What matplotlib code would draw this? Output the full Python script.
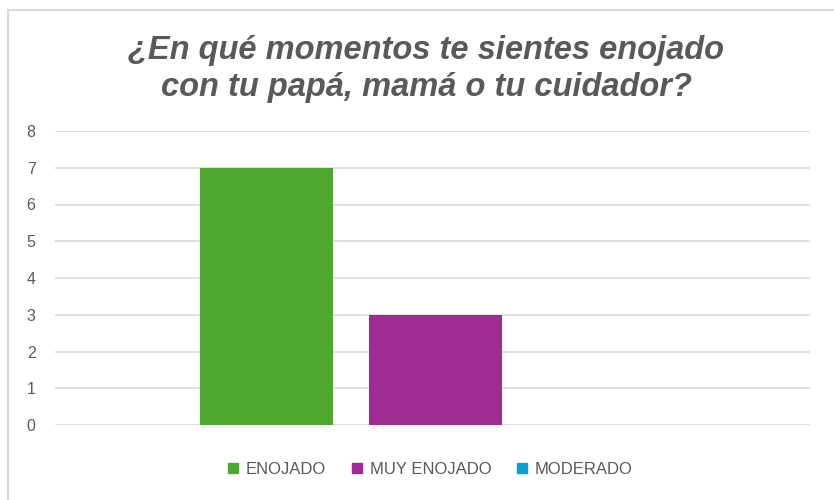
import matplotlib.pyplot as plt
from matplotlib.lines import Line2D

title = "¿En qué momentos te sientes enojado\ncon tu papá, mamá o tu cuidador?"
series = ["ENOJADO", "MUY ENOJADO", "MODERADO"]
values = [7, 3, 0]
colors = ["#4EA72E", "#A02B93", "#0F9ED5"]
yticks = [0, 1, 2, 3, 4, 5, 6, 7, 8]

text_color = "#595959"

fig = plt.figure(figsize=(8.34, 5), dpi=100)
ax = fig.add_axes([55 / 834, 1 - 425 / 500, 755 / 834, 294 / 500])

width = 0.176
step = 0.224
for i, (name, v, c) in enumerate(zip(series, values, colors)):
    ax.bar((i - 1) * step, v, width=width, color=c, label=name, zorder=3)

ax.set_xlim(-0.504, 0.496)
ax.set_ylim(0, 8)
ax.set_yticks(yticks)
ax.set_xticks([])
ax.grid(axis="y", color="#D9D9D9", linewidth=1.2, zorder=0)
for s in ax.spines.values():
    s.set_visible(False)
ax.tick_params(axis="y", length=0, pad=14, labelsize=11.5, labelcolor=text_color)
for lab in ax.get_yticklabels():
    lab.set_fontfamily("Liberation Sans")

fig.text(426 / 834, 1 - 69 / 500, title, ha="center", va="center",
         fontsize=23.5, fontweight="bold", fontstyle="italic",
         family="Liberation Sans", color=text_color, linespacing=1.22)

handles = [Line2D([], [], marker="s", linestyle="none", markersize=7,
                  markerfacecolor=c, markeredgecolor=c) for c in colors]
leg = fig.legend(handles, series, loc="center", ncol=3, frameon=False,
                 bbox_to_anchor=(430 / 834, 1 - 469 / 500),
                 prop={"family": "Liberation Sans", "size": 12},
                 handlelength=0.7, handletextpad=0.4, columnspacing=1.5)
for t in leg.get_texts():
    t.set_color(text_color)

# chart border (only top and left are visible in the reference)
fig.add_artist(Line2D([8 / 834, 1.01], [1 - 10 / 500, 1 - 10 / 500],
                      transform=fig.transFigure, color="#D9D9D9", linewidth=1.5))
fig.add_artist(Line2D([8 / 834, 8 / 834], [1 - 10 / 500, -0.01],
                      transform=fig.transFigure, color="#D9D9D9", linewidth=1.5))

fig.savefig("out.png", dpi=100, facecolor="white")
